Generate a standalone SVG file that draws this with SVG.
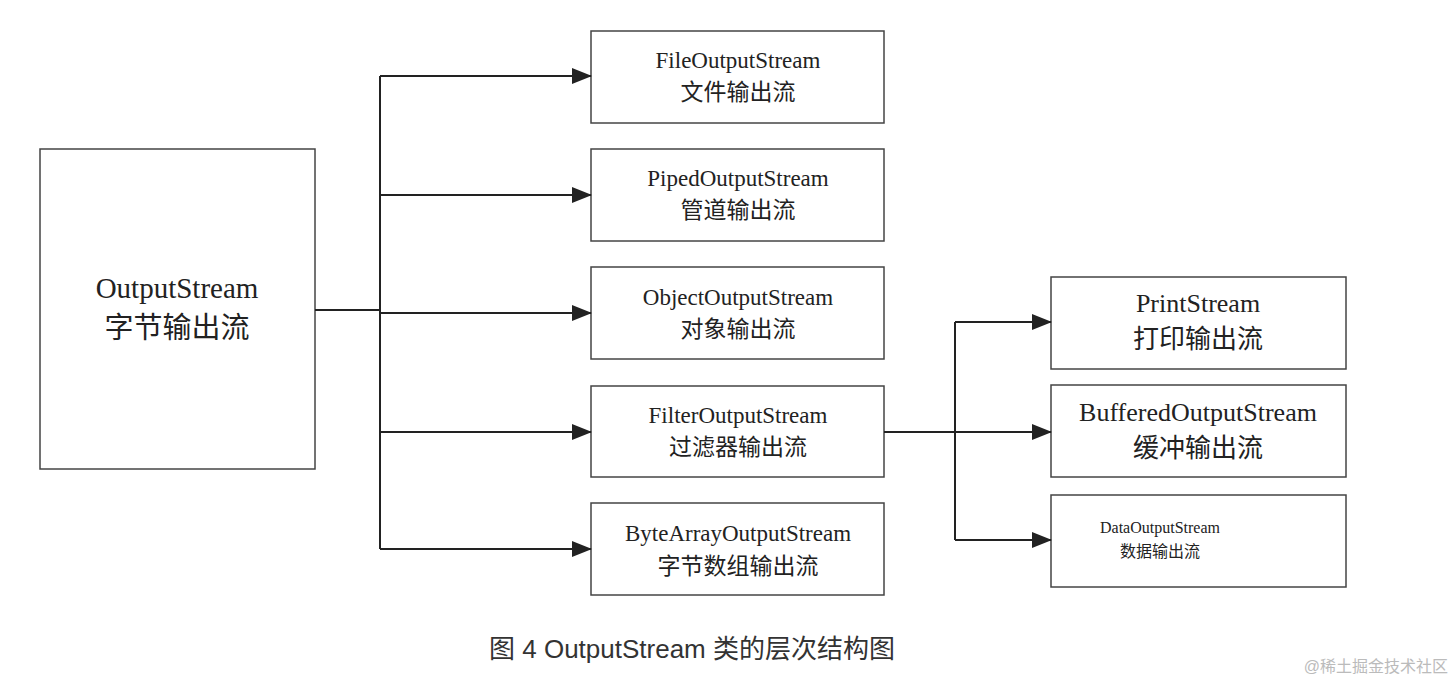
<svg xmlns="http://www.w3.org/2000/svg" width="1454" height="684" viewBox="0 0 1454 684">
<style>
.b{fill:#fff;stroke:#444;stroke-width:1.5}
.t{font-family:"Liberation Serif","Noto Sans CJK SC",serif;fill:#222;text-anchor:middle}
.c{stroke:#222;stroke-width:2;fill:none}
</style>
<defs><marker id="a" markerWidth="20" markerHeight="16" refX="19" refY="8" orient="auto" markerUnits="userSpaceOnUse"><path d="M0,0L20,8L0,16z" fill="#222"/></marker></defs>
<rect width="1454" height="684" fill="#fff"/>
<g id="n0"><rect class="b" x="40" y="149" width="275" height="320"/><text class="t" x="177" y="298" font-size="29">OutputStream</text><text class="t" x="177" y="338" font-size="29">字节输出流</text></g>
<g id="n1"><rect class="b" x="591" y="31" width="293" height="92"/><text class="t" x="738" y="68" font-size="23">FileOutputStream</text><text class="t" x="738" y="100" font-size="23">文件输出流</text></g>
<g id="n2"><rect class="b" x="591" y="149" width="293" height="92"/><text class="t" x="738" y="186" font-size="23">PipedOutputStream</text><text class="t" x="738" y="218" font-size="23">管道输出流</text></g>
<g id="n3"><rect class="b" x="591" y="267" width="293" height="92"/><text class="t" x="738" y="305" font-size="23">ObjectOutputStream</text><text class="t" x="738" y="337" font-size="23">对象输出流</text></g>
<g id="n4"><rect class="b" x="591" y="386" width="293" height="91"/><text class="t" x="738" y="423" font-size="23">FilterOutputStream</text><text class="t" x="738" y="455" font-size="23">过滤器输出流</text></g>
<g id="n5"><rect class="b" x="591" y="503" width="293" height="92"/><text class="t" x="738" y="541" font-size="23">ByteArrayOutputStream</text><text class="t" x="738" y="574" font-size="23">字节数组输出流</text></g>
<g id="n6"><rect class="b" x="1051" y="277" width="295" height="92"/><text class="t" x="1198" y="312" font-size="26">PrintStream</text><text class="t" x="1198" y="348" font-size="26">打印输出流</text></g>
<g id="n7"><rect class="b" x="1051" y="385" width="295" height="92"/><text class="t" x="1198" y="421" font-size="26">BufferedOutputStream</text><text class="t" x="1198" y="457" font-size="26">缓冲输出流</text></g>
<g id="n8"><rect class="b" x="1051" y="495" width="295" height="92"/><text class="t" x="1160" y="533" font-size="16">DataOutputStream</text><text class="t" x="1160" y="557" font-size="16">数据输出流</text></g>
<g id="connectors">
<path class="c" d="M315,310H380M380,76V549"/>
<path class="c" d="M380,76H591" marker-end="url(#a)"/>
<path class="c" d="M380,195H591" marker-end="url(#a)"/>
<path class="c" d="M380,313H591" marker-end="url(#a)"/>
<path class="c" d="M380,432H591" marker-end="url(#a)"/>
<path class="c" d="M380,549H591" marker-end="url(#a)"/>
<path class="c" d="M884,432H955M955,322V540"/>
<path class="c" d="M955,322H1051" marker-end="url(#a)"/>
<path class="c" d="M955,432H1051" marker-end="url(#a)"/>
<path class="c" d="M955,540H1051" marker-end="url(#a)"/>
</g>
<text x="692" y="658" font-family="Liberation Sans,Noto Sans CJK SC,sans-serif" font-size="26" fill="#333" text-anchor="middle">图 4  OutputStream 类的层次结构图</text>
<text x="1448" y="672" font-family="Liberation Sans,Noto Sans CJK SC,sans-serif" font-size="16" fill="#bbb" text-anchor="end">@稀土掘金技术社区</text>
</svg>
